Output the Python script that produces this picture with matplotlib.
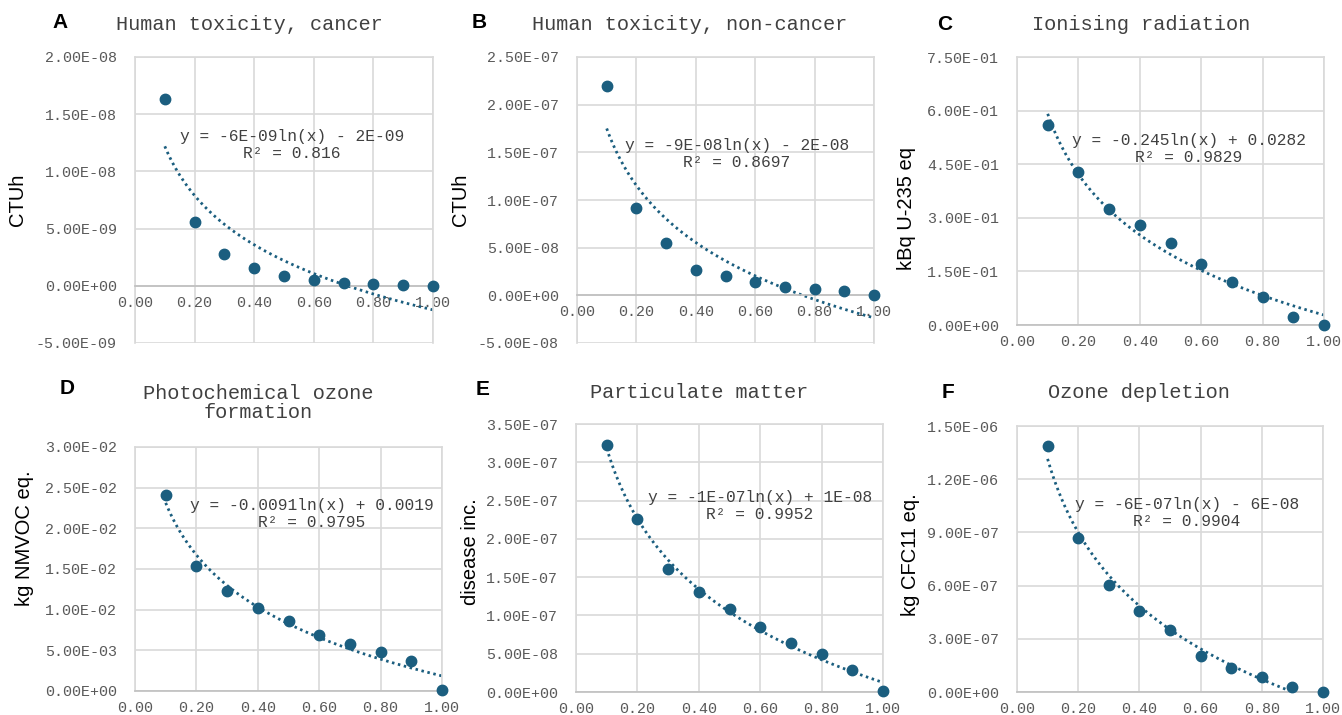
import numpy as np
import matplotlib
matplotlib.use("Agg")
import matplotlib.pyplot as plt

W, H = 1342, 715

# share of contaminant (x) and impact values
x = [0.1, 0.2, 0.3, 0.4, 0.5, 0.6, 0.7, 0.8, 0.9, 1.0]

tox_cancer = [1.63e-8, 5.6e-9, 2.8e-9, 1.55e-9, 8.5e-10, 4.8e-10, 2.8e-10, 1.8e-10, 1.0e-10, 0.0]
tox_noncancer = [2.2e-7, 9.2e-8, 5.5e-8, 2.66e-8, 2.0e-8, 1.4e-8, 8.8e-9, 6.3e-9, 4.2e-9, 0.0]
ionising = [0.561, 0.428, 0.325, 0.280, 0.230, 0.171, 0.121, 0.078, 0.022, 0.0]
ozone_form = [0.0241, 0.01537, 0.01233, 0.01015, 0.00859, 0.00686, 0.00575, 0.00477, 0.0037, 0.0001]
part_matter = [3.23e-7, 2.257e-7, 1.604e-7, 1.30e-7, 1.083e-7, 8.48e-8, 6.43e-8, 5.0e-8, 2.91e-8, 1.3e-9]
ozone_depl = [1.385e-6, 8.70e-7, 6.02e-7, 4.59e-7, 3.50e-7, 2.01e-7, 1.36e-7, 8.5e-8, 2.6e-8, 0.0]

letters = ["A", "B", "C", "D", "E", "F"]
titles = ["Human toxicity, cancer", "Human toxicity, non-cancer", "Ionising radiation",
          "Photochemical ozone\nformation", "Particulate matter", "Ozone depletion"]
ylabels = ["CTUh", "CTUh", "kBq U-235 eq", "kg NMVOC eq.", "disease inc.", "kg CFC11 eq."]
equations = ["y = -6E-09ln(x) - 2E-09\nR\u00b2 = 0.816",
             "y = -9E-08ln(x) - 2E-08\nR\u00b2 = 0.8697",
             "y = -0.245ln(x) + 0.0282\nR\u00b2 = 0.9829",
             "y = -0.0091ln(x) + 0.0019\nR\u00b2 = 0.9795",
             "y = -1E-07ln(x) + 1E-08\nR\u00b2 = 0.9952",
             "y = -6E-07ln(x) - 6E-08\nR\u00b2 = 0.9904"]
yticks = [[-5e-9, 0, 5e-9, 1e-8, 1.5e-8, 2e-8],
          [-5e-8, 0, 5e-8, 1e-7, 1.5e-7, 2e-7, 2.5e-7],
          [0, 0.15, 0.30, 0.45, 0.60, 0.75],
          [0, 0.005, 0.01, 0.015, 0.02, 0.025, 0.03],
          [0, 5e-8, 1e-7, 1.5e-7, 2e-7, 2.5e-7, 3e-7, 3.5e-7],
          [0, 3e-7, 6e-7, 9e-7, 1.2e-6, 1.5e-6]]
xticks = [0.0, 0.2, 0.4, 0.6, 0.8, 1.0]
series = [tox_cancer, tox_noncancer, ionising, ozone_form, part_matter, ozone_depl]

# layout in pixels: plot box (left, top, right, bottom), letter, title, ylabel, equation
boxes = [(135, 57, 433, 343), (577, 57, 874, 343), (1017, 57, 1324, 325),
         (135, 447, 442, 691), (576, 424, 883, 692), (1017, 426, 1323, 692)]
letter_pos = [(60, 22), (479, 22), (945, 24), (67, 389), (483, 390), (948, 393)]
title_pos = [(249, 25), (690, 25), (1141, 25), (258, 403), (699, 392), (1139, 393)]
ylab_pos = [(17, 200), (460, 200), (906, 208), (25, 538), (470, 552), (910, 555)]
eq_pos = [(292, 145), (737, 154), (1189, 149), (312, 514), (760, 506), (1187, 513)]

MONO = "Liberation Mono"
SANS = "Liberation Sans"
BLUE = "#1B5E7F"
GRID = "#D9D9D9"

fig = plt.figure(figsize=(W / 100, H / 100), dpi=100)


def fx(px):
    return px / W


def fy(py):
    return 1 - py / H


for i in range(6):
    l, t, r, b = boxes[i]
    ax = fig.add_axes([fx(l), fy(b), fx(r - l), (b - t) / H])
    ys = np.array(series[i])
    xs = np.array(x)

    # log trend line fitted to the points
    k, c = np.polyfit(np.log(xs), ys, 1)
    xf = np.linspace(0.1, 1.0, 200)
    ax.plot(xf, k * np.log(xf) + c, color=BLUE, lw=2.0, ls=(0, (0.9, 1.3)), zorder=2)
    ax.plot(xs, ys, "o", color=BLUE, ms=7.5, zorder=3, clip_on=False)

    ax.set_xlim(0, 1)
    ax.set_ylim(yticks[i][0], yticks[i][-1])
    ax.set_xticks(xticks)
    ax.set_yticks(yticks[i])
    ax.set_xticklabels(["%.2f" % v for v in xticks])
    ax.set_yticklabels(["%.2E" % v for v in yticks[i]])
    ax.grid(True, color=GRID, lw=1.2)
    ax.set_axisbelow(True)
    for s in ["left", "right", "top"]:
        ax.spines[s].set_color(GRID)
        ax.spines[s].set_linewidth(1.2)
    ax.spines["bottom"].set_position(("data", 0))
    ax.spines["bottom"].set_color("#BFBFBF")
    ax.spines["bottom"].set_linewidth(1.2)
    ax.tick_params(length=0, labelsize=10.8, labelcolor="#595959")
    ax.tick_params(axis="y", pad=13)
    ax.tick_params(axis="x", pad=7)
    for lab in ax.get_xticklabels() + ax.get_yticklabels():
        lab.set_fontfamily(MONO)

    lx, ly = letter_pos[i]
    fig.text(fx(lx), fy(ly), letters[i], fontfamily=SANS, fontweight="bold",
             fontsize=15, ha="center", va="center", color="black")
    tx, ty = title_pos[i]
    fig.text(fx(tx), fy(ty), titles[i], fontfamily=MONO, fontsize=14.6,
             ha="center", va="center", color="#404040", linespacing=1.05)
    yx, yy = ylab_pos[i]
    fig.text(fx(yx), fy(yy), ylabels[i], fontfamily=SANS, fontsize=14.5,
             ha="center", va="center", rotation=90, color="black")
    ex, ey = eq_pos[i]
    fig.text(fx(ex), fy(ey), equations[i], fontfamily=MONO, fontsize=11.7,
             ha="center", va="center", multialignment="center", color="#404040")

fig.savefig("out.png", dpi=100, facecolor="white")
